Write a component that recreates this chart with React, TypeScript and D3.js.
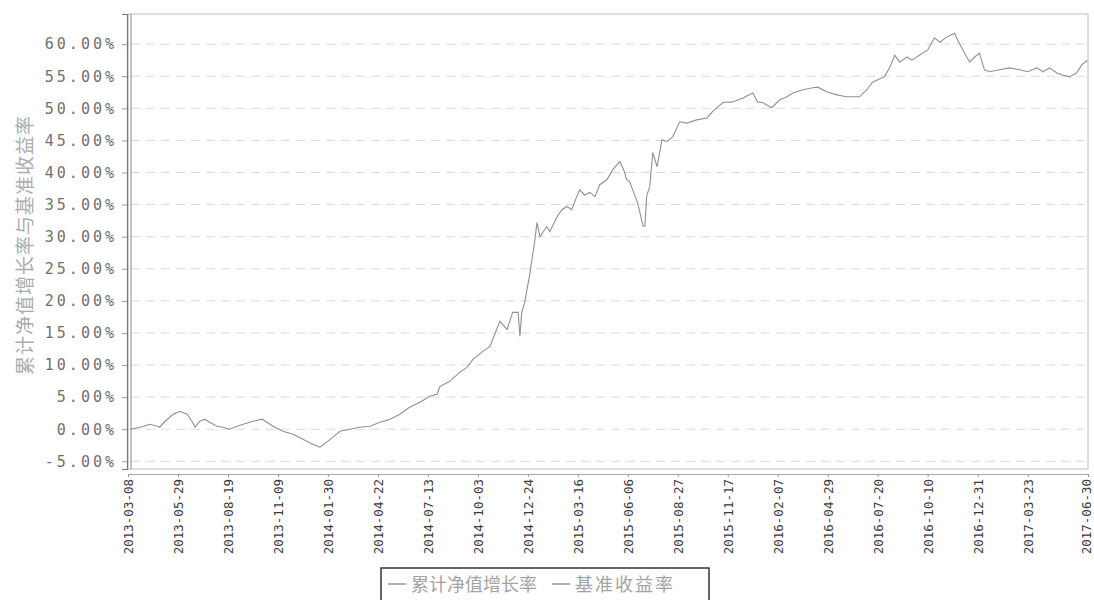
import { useEffect, useRef } from 'react'
import * as d3 from 'd3'

const seriesNames = ['累计净值增长率', '基准收益率']
const yTitle = '累计净值增长率与基准收益率'

const tickDates = [
  '2013-03-08', '2013-05-29', '2013-08-19', '2013-11-09', '2014-01-30',
  '2014-04-22', '2014-07-13', '2014-10-03', '2014-12-24', '2015-03-16',
  '2015-06-06', '2015-08-27', '2015-11-17', '2016-02-07', '2016-04-29',
  '2016-07-20', '2016-10-10', '2016-12-31', '2017-03-23', '2017-06-30',
]

const yTicks = [-5, 0, 5, 10, 15, 20, 25, 30, 35, 40, 45, 50, 55, 60]

// 累计净值增长率 (%)
const navDates = [
  '2013-03-11', '2013-03-28', '2013-04-13', '2013-04-25', '2013-04-29', '2013-05-08', '2013-05-21', '2013-06-01',
  '2013-06-13', '2013-06-21', '2013-06-26', '2013-07-04', '2013-07-12', '2013-07-20', '2013-08-01', '2013-08-11',
  '2013-08-22', '2013-09-03', '2013-09-13', '2013-09-29', '2013-10-14', '2013-10-22', '2013-11-01', '2013-11-17',
  '2013-12-04', '2013-12-20', '2014-01-05', '2014-01-17', '2014-01-28', '2014-02-07', '2014-02-19', '2014-03-07',
  '2014-03-23', '2014-04-09', '2014-04-25', '2014-05-12', '2014-05-28', '2014-06-13', '2014-06-30', '2014-07-16',
  '2014-07-28', '2014-08-02', '2014-08-18', '2014-09-03', '2014-09-15', '2014-09-25', '2014-10-11', '2014-10-23',
  '2014-11-08', '2014-11-20', '2014-11-29', '2014-12-08', '2014-12-11', '2014-12-14', '2014-12-19', '2014-12-27',
  '2015-01-04', '2015-01-08', '2015-01-13', '2015-01-24', '2015-01-29', '2015-02-10', '2015-02-18', '2015-02-26',
  '2015-03-06', '2015-03-14', '2015-03-19', '2015-03-27', '2015-04-05', '2015-04-13', '2015-04-21', '2015-05-03',
  '2015-05-12', '2015-05-24', '2015-06-01', '2015-06-04', '2015-06-09', '2015-06-14', '2015-06-22', '2015-07-01',
  '2015-07-04', '2015-07-07', '2015-07-12', '2015-07-17', '2015-07-24', '2015-08-01', '2015-08-09', '2015-08-19',
  '2015-08-30', '2015-09-11', '2015-09-27', '2015-10-14', '2015-10-23', '2015-11-09', '2015-11-25', '2015-12-12',
  '2015-12-28', '2016-01-05', '2016-01-13', '2016-01-28', '2016-02-10', '2016-02-22', '2016-03-03', '2016-03-19',
  '2016-04-04', '2016-04-13', '2016-04-27', '2016-05-14', '2016-05-30', '2016-06-20', '2016-07-02', '2016-07-12',
  '2016-07-31', '2016-08-09', '2016-08-17', '2016-08-25', '2016-09-06', '2016-09-14', '2016-09-27', '2016-10-10',
  '2016-10-21', '2016-10-30', '2016-11-10', '2016-11-23', '2016-12-01', '2016-12-13', '2016-12-18', '2016-12-26',
  '2017-01-03', '2017-01-11', '2017-01-20', '2017-02-05', '2017-02-21', '2017-03-10', '2017-03-23', '2017-04-07',
  '2017-04-17', '2017-04-28', '2017-05-10', '2017-05-19', '2017-05-31', '2017-06-11', '2017-06-20', '2017-06-29',
]
const navValues = [
  0.0, 0.31, 0.78, 0.47, 0.31, 1.24, 2.33, 2.8,
  2.33, 1.24, 0.31, 1.24, 1.56, 1.09, 0.47, 0.31,
  0.0, 0.47, 0.78, 1.24, 1.56, 1.09, 0.47, -0.31,
  -0.78, -1.56, -2.33, -2.8, -2.02, -1.24, -0.31, 0.0,
  0.31, 0.47, 1.09, 1.56, 2.33, 3.42, 4.2, 5.13,
  5.44, 6.69, 7.46, 8.86, 9.64, 10.89, 12.13, 12.9,
  16.8, 15.55, 18.2, 18.2, 14.5, 18.2, 19.8, 24.1,
  29.1, 32.2, 30.0, 31.6, 30.8, 33.1, 34.2, 34.7,
  34.2, 36.2, 37.3, 36.5, 36.9, 36.2, 38.1, 38.9,
  40.4, 41.7, 40.0, 38.9, 38.6, 37.3, 35.3, 31.7,
  31.6, 36.4, 37.8, 43.1, 40.9, 45.1, 44.8, 45.6,
  47.9, 47.7, 48.2, 48.5, 49.5, 50.9, 51.0, 51.6,
  52.4, 51.0, 50.9, 50.1, 51.3, 51.8, 52.4, 52.9,
  53.2, 53.3, 52.6, 52.1, 51.8, 51.8, 52.9, 54.1,
  54.9, 56.4, 58.3, 57.2, 58.0, 57.5, 58.3, 59.1,
  61.0, 60.3, 61.1, 61.7, 60.1, 58.0, 57.2, 58.0,
  58.6, 56.0, 55.7, 56.0, 56.3, 56.0, 55.7, 56.3,
  55.7, 56.3, 55.5, 55.2, 54.9, 55.5, 56.8, 57.5,
]

export default function App() {
  const svgRef = useRef<SVGSVGElement>(null)

  useEffect(() => {
    if (!svgRef.current) return
    const svg = d3.select(svgRef.current)
    svg.selectAll('*').remove()

    const parse = d3.timeParse('%Y-%m-%d')
    const left = 128, right = 1088, top = 14, bottom = 469

    const x = d3.scaleTime()
      .domain([parse(tickDates[0])!, parse(tickDates[tickDates.length - 1])!])
      .range([left, right])
    const y = d3.scaleLinear().domain([-6.2, 64.7]).range([bottom, top])

    const mono = '"DejaVu Sans Mono", "Liberation Mono", monospace'

    // plot frame
    svg.append('rect')
      .attr('x', left).attr('y', top)
      .attr('width', right - left).attr('height', bottom - top)
      .attr('fill', '#fff').attr('stroke', '#bcbcbc').attr('stroke-width', 1)

    // grid lines
    svg.append('g')
      .selectAll('line')
      .data(yTicks)
      .join('line')
      .attr('x1', left + 3).attr('x2', right)
      .attr('y1', d => y(d)).attr('y2', d => y(d))
      .attr('stroke', '#dadada')
      .attr('stroke-dasharray', '9,6')

    // y axis
    const yAxis = svg.append('g').attr('transform', `translate(${left - 1},0)`)
      .call(d3.axisLeft(y).tickValues(yTicks).tickSize(5).tickPadding(5)
        .tickFormat(d => `${(d as number).toFixed(2)}%`))
    yAxis.select('.domain').attr('stroke', '#777').attr('stroke-width', 1.2)
    yAxis.selectAll('.tick line').attr('stroke', '#999')
    yAxis.selectAll('.tick text')
      .attr('fill', '#707070')
      .style('font-family', mono)
      .style('font-size', '15px')
      .style('letter-spacing', '3px')
    svg.append('line')
      .attr('x1', left + 3).attr('x2', left + 3).attr('y1', top).attr('y2', bottom)
      .attr('stroke', '#888').attr('stroke-width', 1)

    // x axis
    const xAxis = svg.append('g').attr('transform', `translate(0,${bottom + 5})`)
      .call(d3.axisBottom(x).tickValues(tickDates.map(d => parse(d)!)).tickSize(3).tickPadding(4)
        .tickFormat(d => d3.timeFormat('%Y-%m-%d')(d as Date)))
    xAxis.select('.domain').attr('stroke', '#aaa')
    xAxis.selectAll('.tick line').attr('stroke', '#999')
    xAxis.selectAll<SVGTextElement, Date>('.tick text')
      .attr('fill', '#3a3a3a')
      .attr('transform', 'rotate(-90)')
      .attr('text-anchor', 'end')
      .attr('x', -5)
      .attr('y', (_d, i) => (i === tickDates.length - 1 ? -2 : 0))
      .attr('dy', '0.35em')
      .style('font-family', mono)
      .style('font-size', '12.5px')

    // y title
    svg.append('text')
      .attr('transform', `translate(23,245) rotate(-90)`)
      .attr('text-anchor', 'middle')
      .attr('dominant-baseline', 'central')
      .attr('fill', '#ababab')
      .style('font-family', '"Noto Sans CJK SC", sans-serif')
      .style('font-size', '19px')
      .style('letter-spacing', '1px')
      .text(yTitle)

    // line
    const pts = navDates.map((d, i) => ({ date: parse(d)!, v: navValues[i] }))
    svg.append('path')
      .datum(pts)
      .attr('fill', 'none')
      .attr('stroke', '#919191')
      .attr('stroke-width', 1.1)
      .attr('d', d3.line<{ date: Date, v: number }>().x(d => x(d.date)).y(d => y(d.v)))

    // legend
    const lg = svg.append('g')
    lg.append('rect')
      .attr('x', 381).attr('y', 568).attr('width', 328).attr('height', 40)
      .attr('fill', '#fff').attr('stroke', '#333').attr('stroke-width', 1.5)
    const items = [{ x: 388, w: 18 }, { x: 552, w: 18 }]
    items.forEach((it, i) => {
      lg.append('line')
        .attr('x1', it.x).attr('x2', it.x + it.w).attr('y1', 584).attr('y2', 584)
        .attr('stroke', '#9a9a9a').attr('stroke-width', 1.5)
      lg.append('text')
        .attr('x', it.x + it.w + 5).attr('y', 591)
        .attr('fill', '#a3a3a3')
        .style('font-family', '"Noto Sans CJK SC", sans-serif')
        .style('font-size', '18px')
        .style('letter-spacing', i === 1 ? '2px' : '0px')
        .text(seriesNames[i])
    })
  }, [])

  return (
    <div style={{ position: 'absolute', left: 0, top: 0, width: 1094, height: 600, background: '#fff' }}>
      <svg ref={svgRef} width={1094} height={600}></svg>
    </div>
  )
}
